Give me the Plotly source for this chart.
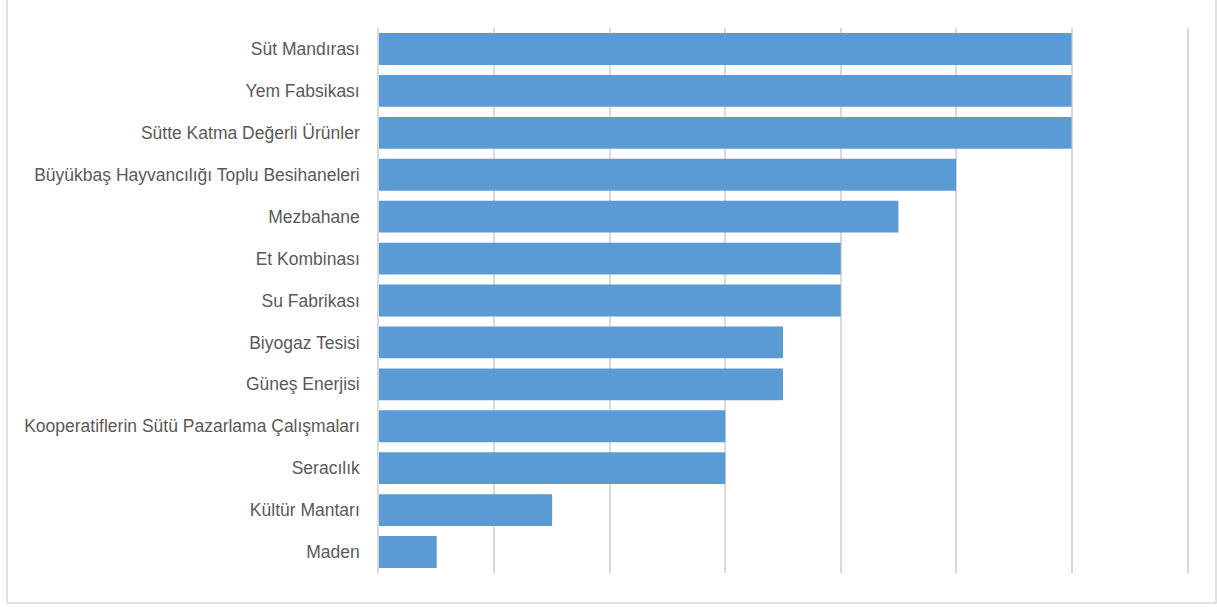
import plotly.graph_objects as go

categories = [
    "Süt Mandırası",
    "Yem Fabsikası",
    "Sütte Katma Değerli Ürünler",
    "Büyükbaş Hayvancılığı Toplu Besihaneleri",
    "Mezbahane",
    "Et Kombinası",
    "Su Fabrikası",
    "Biyogaz Tesisi",
    "Güneş Enerjisi",
    "Kooperatiflerin Sütü Pazarlama Çalışmaları",
    "Seracılık",
    "Kültür Mantarı",
    "Maden",
]
values = [12, 12, 12, 10, 9, 8, 8, 7, 7, 6, 6, 3, 1]

W, H = 1217, 607
ml, mr, mt, mb = 379, 30, 28, 34
pw, ph = W - ml - mr, H - mt - mb

fig = go.Figure(
    go.Bar(
        x=values,
        y=categories,
        orientation="h",
        marker=dict(color="#5B9BD5", line=dict(width=0)),
        width=0.76,
    )
)

fig.update_layout(
    width=W,
    height=H,
    margin=dict(l=ml, r=mr, t=mt, b=mb, pad=0),
    paper_bgcolor="white",
    plot_bgcolor="white",
    showlegend=False,
    font=dict(family="Liberation Sans, Arial, sans-serif", size=17.5, color="#595959"),
    bargap=0.24,
)

fig.update_xaxes(
    range=[0, 14],
    dtick=2,
    tick0=0,
    showgrid=True,
    gridcolor="#D9D9D9",
    gridwidth=1.5,
    showticklabels=False,
    zeroline=False,
    showline=False,
    ticks="",
)
fig.update_yaxes(
    autorange="reversed",
    showgrid=False,
    zeroline=False,
    showline=True,
    mirror=True,
    linecolor="#D9D9D9",
    linewidth=1.5,
    ticks="outside",
    ticklen=14,
    tickcolor="rgba(0,0,0,0)",
)

# outer chart border
fig.add_shape(
    type="rect",
    xref="paper",
    yref="paper",
    x0=(7 - ml) / pw,
    x1=(1216 - ml) / pw,
    y0=(H - mb - 603) / ph,
    y1=(H - mb + 5) / ph,
    line=dict(color="#D9D9D9", width=1.5),
    fillcolor="rgba(0,0,0,0)",
    layer="below",
)

fig.write_html(
    "out.html",
    config={"displayModeBar": False},
    post_script="document.body.style.margin='0';document.body.style.overflow='hidden';",
)
